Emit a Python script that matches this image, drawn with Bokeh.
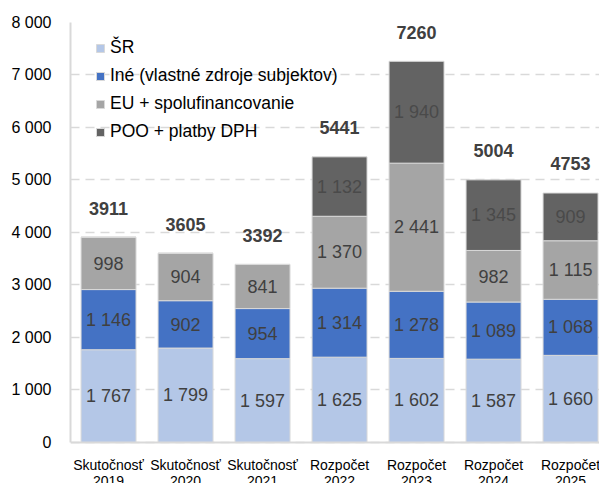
from bokeh.plotting import figure
from bokeh.models import ColumnDataSource, Range1d, FixedTicker, Legend, LegendItem, Span
from bokeh.core.properties import value
from bokeh.embed import file_html
from bokeh.resources import INLINE

categories = ["Skutočnosť\n2019", "Skutočnosť\n2020", "Skutočnosť\n2021",
              "Rozpočet\n2022", "Rozpočet\n2023", "Rozpočet\n2024", "Rozpočet\n2025"]
sr = [1767, 1799, 1597, 1625, 1602, 1587, 1660]
ine = [1146, 902, 954, 1314, 1278, 1089, 1068]
eu = [998, 904, 841, 1370, 2441, 982, 1115]
poo = [0, 0, 0, 1132, 1940, 1345, 909]
totals = [3911, 3605, 3392, 5441, 7260, 5004, 4753]
series_names = ["ŠR", "Iné (vlastné zdroje subjektov)", "EU + spolufinancovanie", "POO + platby DPH"]
series_colors = ["#b4c7e7", "#4472c4", "#a5a5a5", "#636363"]
yticks = [0, 1000, 2000, 3000, 4000, 5000, 6000, 7000, 8000]

FONT = "Liberation Sans"

def fmt(v):
    return f"{v:,}".replace(",", " ")

xs = list(range(len(categories)))
series = [sr, ine, eu, poo]

p = figure(width=599, height=483, output_backend="svg", toolbar_location=None,
           x_range=Range1d(-0.494, 6.376), y_range=Range1d(-781, 8000),
           x_axis_location=None,
           min_border_left=70, min_border_right=0, min_border_top=22, min_border_bottom=0)
p.outline_line_color = None
p.background_fill_color = "white"

renderers = []
bottom = [0] * len(xs)
for vals, col in zip(series, series_colors):
    top = [b + v for b, v in zip(bottom, vals)]
    src = ColumnDataSource(dict(x=xs, bottom=bottom, top=top))
    r = p.vbar(x="x", bottom="bottom", top="top", width=0.714, source=src,
               fill_color=col, line_color="#d9d9d9", line_width=1)
    renderers.append(r)
    lx, ly, lt = [], [], []
    for i, (b, v) in enumerate(zip(bottom, vals)):
        if v > 0:
            lx.append(i)
            ly.append(b + v / 2)
            lt.append(fmt(v))
    lsrc = ColumnDataSource(dict(x=lx, y=ly, t=lt))
    p.text(x="x", y="y", text="t", source=lsrc, text_align="center", text_baseline="middle",
           text_font=value(FONT), text_font_size="18px",
           text_color="#4a4a4a" if col == "#636363" else "#404040")
    bottom = top

tsrc = ColumnDataSource(dict(x=xs, y=totals, t=[str(t) for t in totals]))
p.text(x="x", y="y", text="t", source=tsrc, text_align="center", text_baseline="middle",
       y_offset=-29, text_font=value(FONT), text_font_size="18px",
       text_font_style="bold", text_color="#404040")

# category labels (two lines, below the baseline)
line1 = [c.split("\n")[0] for c in categories]
line2 = [c.split("\n")[1] for c in categories]
csrc = ColumnDataSource(dict(x=xs, y=[0] * len(xs), a=line1, b=line2))
p.text(x="x", y="y", text="a", source=csrc, text_align="center", text_baseline="middle",
       y_offset=23, text_font=value(FONT), text_font_size="14px", text_color="#000000")
p.text(x="x", y="y", text="b", source=csrc, text_align="center", text_baseline="middle",
       y_offset=39, text_font=value(FONT), text_font_size="14px", text_color="#000000")

p.add_layout(Span(location=0, dimension="width", line_color="#d9d9d9", line_width=2))

p.xgrid.grid_line_color = None
p.ygrid.grid_line_color = "#d9d9d9"
p.ygrid.grid_line_dash = "9 6"
p.ygrid.grid_line_width = 1.5
p.yaxis.ticker = FixedTicker(ticks=yticks)
p.yaxis.bounds = (0, 8000)
p.yaxis.major_label_overrides = {t: fmt(t) for t in yticks}
p.yaxis.axis_line_color = "#d9d9d9"
p.yaxis.axis_line_width = 2
p.yaxis.major_tick_line_color = None
p.yaxis.minor_tick_line_color = None
p.yaxis.major_label_standoff = 13
p.yaxis.major_label_text_font = FONT
p.yaxis.major_label_text_font_size = "16px"
p.yaxis.major_label_text_color = "#000000"

legend = Legend(items=[LegendItem(label=n, renderers=[r]) for n, r in zip(series_names, renderers)],
                location=(25, 341), padding=0, margin=0, spacing=7,
                glyph_width=10, glyph_height=10, label_height=20, label_standoff=5,
                label_text_font=FONT, label_text_font_size="17.5px", label_text_color="#000000",
                background_fill_alpha=0, border_line_alpha=0)
p.add_layout(legend)

open("out.html", "w").write(file_html(p, INLINE))
